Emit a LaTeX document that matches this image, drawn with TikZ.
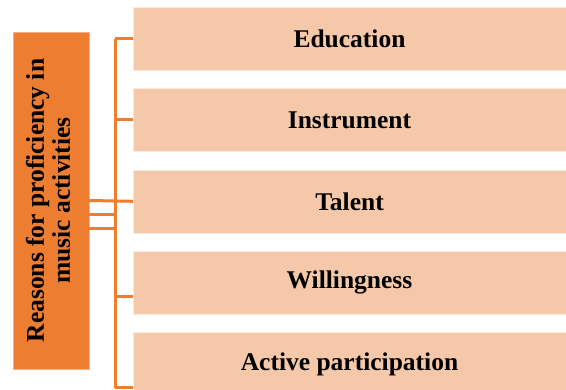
\documentclass[tikz,border=0pt]{standalone}
\usepackage{fontspec}
\setmainfont{Liberation Serif}
\usepackage{tikz}
\usetikzlibrary{positioning}
\definecolor{accentorange}{HTML}{ED7D31}
\definecolor{lightorange}{HTML}{F5C8AA}
\tikzset{
	reasonbox/.style={
		rectangle,
		fill=accentorange,
		draw=accentorange!60!white,
		minimum width=76pt,
		minimum height=337pt,
		inner sep=0pt,
		font=\fontsize{25.5}{29}\selectfont\bfseries,
		align=center
	},
	itembox/.style={
		rectangle,
		fill=lightorange,
		draw=lightorange!40!white,
		minimum width=433pt,
		minimum height=63pt,
		inner sep=0pt,
		font=\fontsize{25.5}{29}\selectfont\bfseries
	},
	link/.style={
		draw=accentorange,
		line width=3pt
	}
}
\begin{document}
\begin{tikzpicture}[x=1pt,y=-1pt,node distance=18pt]
		\useasboundingbox (0,0) rectangle (566,390);
		\begin{scope}
		\clip (0,0) rectangle (566,390);
		\node [reasonbox] (reason) at (51,200.5) {\rotatebox{90}{\begin{tabular}{c}Reasons for proficiency in\\[-3pt] music activities\end{tabular}}};
		\node [itembox] (b1) at (349.5,38.5) {Education};
		\node [itembox] (b2) [below= of b1] {Instrument};
		\node [itembox] (b3) [below= of b2] {Talent};
		\node [itembox] (b4) [below= of b3] {Willingness};
		\node [itembox] (b5) [below= of b4] {Active participation};
		% bus
		\coordinate (bustop) at (115,39);
		\coordinate (busbot) at (115,388);
		\draw [link] (bustop) -- (busbot);
		\draw [link] (bustop -| b1.west) -- (bustop);
		\draw [link] (b2.west) -- (b2.west -| bustop);
		\draw [link] (b3.west) -- (reason.east);
		\draw [link] ([yshift=-14pt]b4.west) -- ([yshift=-14pt]b4.west -| bustop);
		\draw [link] (busbot -| b5.west) -- (busbot);
		\draw [link] ([yshift=-14pt]reason.east) -- ([yshift=-14pt]reason.east -| bustop);
		\draw [link] ([yshift=-28pt]reason.east) -- ([yshift=-28pt]reason.east -| bustop);
		\end{scope}
\end{tikzpicture}
\end{document}
